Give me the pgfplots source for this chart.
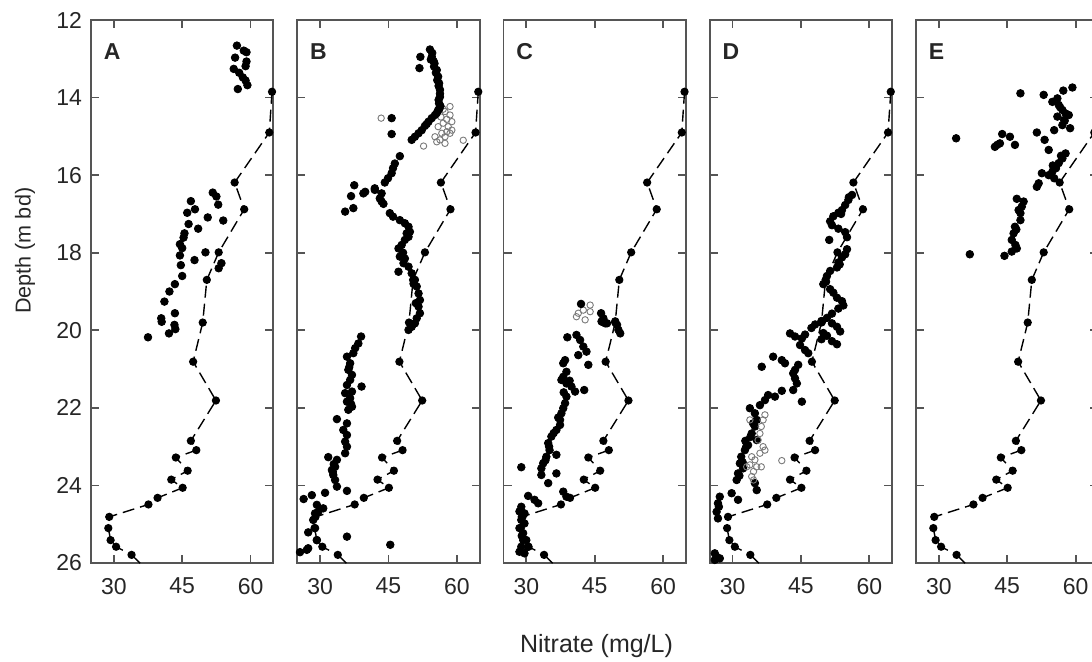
\documentclass[border=0pt]{standalone}
\usepackage{fontspec}
\setmainfont{Liberation Sans}
\usepackage{pgfplots}
\usepackage{pgfplotstable}
\pgfplotsset{compat=1.18}
\definecolor{axgray}{HTML}{555555}
\definecolor{opengray}{HTML}{7A7A7A}

\pgfplotstableread{
x y
64.7 13.85
64.1 14.90
56.5 16.19
58.6 16.88
53.0 17.99
50.4 18.70
49.5 19.80
47.4 20.81
52.4 21.81
46.9 22.85
48.1 23.09
43.6 23.28
46.2 23.62
42.6 23.85
45.1 24.06
39.6 24.32
37.6 24.49
29.0 24.81
28.8 25.10
29.3 25.41
30.5 25.58
33.9 25.79
}\profile

\pgfplotstableread{
x y
57.0 12.66
58.5 12.79
59.1 12.83
56.6 12.97
59.1 13.07
58.9 13.19
56.3 13.26
57.5 13.36
58.3 13.48
58.9 13.56
59.3 13.68
57.2 13.78
51.7 16.45
52.5 16.55
52.9 16.76
46.9 16.67
47.8 16.88
46.1 16.97
50.6 17.09
54.0 17.17
46.4 17.26
48.5 17.38
45.5 17.50
45.3 17.61
44.5 17.78
45.0 17.88
50.1 17.99
44.5 18.07
47.7 18.19
44.7 18.32
53.6 18.27
53.0 18.40
45.0 18.60
43.4 18.81
42.2 19.00
41.1 19.26
40.4 19.69
43.4 19.56
40.5 19.78
43.3 19.86
43.5 19.97
42.1 20.08
37.5 20.18
}\Afill

\pgfplotstableread{
x y
54.1 12.76
54.6 12.85
54.5 12.95
54.3 13.02
54.9 13.06
55.1 13.12
55.0 13.20
55.6 13.29
55.4 13.36
55.9 13.46
55.7 13.55
56.1 13.63
56.0 13.70
56.3 13.80
56.3 13.90
56.3 13.98
56.0 14.06
56.1 14.15
56.4 14.22
56.1 14.30
55.9 14.32
55.2 14.45
55.6 14.40
54.5 14.53
53.8 14.62
53.0 14.73
53.4 14.68
52.3 14.84
51.6 14.92
50.8 15.01
50.1 15.09
52.0 12.95
51.8 13.24
45.7 14.53
45.7 14.94
47.5 15.51
46.4 15.70
46.0 15.82
45.7 15.95
44.9 16.08
44.2 16.19
42.0 16.34
43.5 16.47
43.1 16.60
43.5 16.68
43.9 16.74
45.3 16.98
46.0 17.07
47.5 17.16
48.6 17.24
49.4 17.33
49.7 17.46
49.4 17.59
48.6 17.67
47.9 17.80
47.2 17.89
47.5 18.10
48.6 18.15
48.3 18.27
49.4 18.36
50.1 18.53
50.8 18.70
51.2 18.87
51.6 19.05
51.9 19.22
51.6 19.39
51.9 19.56
51.2 19.69
50.8 19.82
47.2 18.49
49.0 17.50
48.2 18.00
50.5 18.80
51.0 19.30
37.5 16.26
36.8 16.54
35.5 16.94
37.3 16.85
39.5 16.47
39.9 16.43
42.0 16.38
50.1 19.91
49.4 19.99
39.0 20.16
38.4 20.34
37.7 20.46
37.3 20.59
35.9 20.68
36.6 20.85
36.2 21.02
37.0 21.15
36.6 21.28
39.1 21.45
35.9 21.41
37.0 21.58
35.5 21.62
36.6 21.75
35.9 21.84
37.0 21.97
36.2 22.05
36.8 21.90
36.4 20.95
33.7 22.29
35.9 22.40
35.1 22.57
35.9 22.70
35.5 22.87
35.9 23.00
35.5 23.17
31.8 23.27
33.7 23.34
33.3 23.52
32.6 23.60
32.9 23.73
33.3 23.86
33.7 24.03
33.0 23.45
32.8 23.65
35.9 24.14
31.1 24.19
28.2 24.25
26.4 24.35
29.3 24.50
30.7 24.59
28.9 24.72
29.6 24.68
28.5 24.89
28.9 25.10
27.4 25.21
29.3 25.41
27.4 25.62
25.6 25.72
27.1 25.66
35.9 25.32
45.4 25.53
}\Bfill

\pgfplotstableread{
x y
43.4 14.53
52.7 15.25
61.4 15.10
58.5 14.23
57.4 14.36
58.5 14.45
57.8 14.56
58.9 14.62
57.0 14.66
58.1 14.75
55.9 14.75
57.8 14.88
56.7 14.92
58.5 14.92
55.2 15.01
57.4 15.01
56.3 15.09
55.6 15.14
57.4 15.18
58.9 14.84
56.5 14.50
57.0 14.30
}\Bopen

\pgfplotstableread{
x y
42.0 19.32
46.4 19.56
46.9 19.69
46.5 19.77
49.5 19.77
49.9 19.86
47.3 19.82
46.6 19.78
47.7 19.82
50.2 19.99
50.6 20.08
41.0 20.12
39.0 20.18
41.8 20.25
42.5 20.42
43.2 20.55
41.4 20.64
43.6 20.89
38.5 20.77
38.1 20.85
38.8 21.07
38.1 21.20
37.7 21.28
38.8 21.37
39.9 21.45
40.7 21.58
42.7 21.54
38.8 21.71
38.5 21.88
38.1 22.01
37.7 22.14
37.4 22.31
37.4 22.44
36.6 22.57
35.5 22.74
34.8 22.91
35.1 23.09
34.4 23.26
33.7 23.43
33.3 23.56
36.6 23.21
33.3 23.73
36.6 23.69
28.9 23.53
34.8 23.94
38.1 24.16
38.8 24.29
30.4 24.27
31.8 24.37
32.6 24.46
28.9 24.55
28.5 24.67
29.6 24.72
28.9 24.89
29.6 24.98
28.5 25.10
29.3 25.23
30.0 25.41
28.9 25.58
28.5 25.71
29.6 25.75
30.4 25.58
37.0 22.25
36.0 22.65
35.0 23.00
34.2 23.35
38.2 21.60
39.5 21.30
29.2 24.80
29.0 25.30
}\Cfill

\pgfplotstableread{
x y
44.0 19.35
42.5 19.48
41.4 19.56
41.0 19.65
42.9 19.73
44.0 19.52
}\Copen

\pgfplotstableread{
x y
56.2 16.51
55.4 16.64
54.7 16.77
54.0 16.90
53.2 16.97
52.1 17.06
51.4 17.19
51.8 17.29
53.2 17.38
54.7 17.47
55.1 17.60
51.2 17.67
55.1 17.91
54.7 18.04
54.0 18.12
53.2 18.25
52.9 18.38
51.4 18.47
50.7 18.60
49.9 18.81
51.4 18.94
52.1 19.03
52.9 19.16
54.0 19.25
54.3 19.36
53.2 19.44
51.8 19.57
50.7 19.68
49.5 19.76
48.1 19.85
47.3 19.94
45.9 20.11
49.9 20.07
50.7 20.14
49.5 20.23
51.8 20.28
52.9 20.36
55.5 16.57
53.8 17.00
53.5 18.30
50.5 18.75
49.6 19.78
51.8 19.82
52.9 19.91
53.6 20.03
42.6 20.08
43.7 20.16
45.2 20.21
44.8 20.38
45.9 20.51
46.6 20.59
38.9 20.68
40.8 20.77
41.5 20.85
36.4 20.94
44.4 20.89
43.7 21.02
43.3 21.11
43.7 21.24
44.1 21.37
43.3 21.54
45.2 21.84
40.8 21.56
39.3 21.71
37.8 21.67
37.1 21.80
36.0 21.93
33.8 22.01
34.9 22.14
35.3 22.31
34.9 22.48
34.2 22.66
35.3 22.83
33.4 22.96
32.7 23.09
31.9 23.26
31.6 23.43
32.3 23.56
31.2 23.69
30.9 23.86
34.9 23.94
35.3 24.12
29.8 24.20
31.2 24.37
27.2 24.29
26.8 24.46
26.5 24.68
26.8 24.85
26.1 25.75
26.5 25.84
27.2 25.88
26.1 25.92
34.5 22.40
33.9 22.75
33.0 23.00
32.2 23.40
31.5 23.75
32.8 22.85
27.0 24.55
}\Dfill

\pgfplotstableread{
x y
33.8 22.31
37.1 22.18
36.7 22.31
36.3 22.48
36.0 22.66
35.6 22.83
36.7 23.00
36.0 23.17
37.1 23.09
34.2 23.26
34.9 23.34
33.8 23.47
35.3 23.52
36.3 23.52
34.6 23.64
34.2 23.77
34.6 23.86
33.1 23.52
40.8 23.36
}\Dopen

\pgfplotstableread{
x y
47.9 13.89
53.0 13.93
57.3 13.82
59.3 13.74
54.9 14.11
56.0 14.02
56.3 14.19
57.1 14.32
57.8 14.41
56.0 14.49
57.5 14.58
58.5 14.45
55.3 14.84
57.1 14.71
58.8 14.79
56.6 14.25
57.6 14.60
51.5 14.90
53.2 15.09
54.1 15.35
33.8 15.05
43.9 14.94
45.6 15.01
42.3 15.27
43.4 15.18
46.7 15.22
42.8 15.22
57.8 15.44
57.1 15.57
56.3 15.69
55.7 15.82
54.9 15.91
54.1 16.00
52.6 15.95
51.5 16.30
51.9 16.21
55.3 16.08
56.8 15.50
55.0 15.75
47.1 16.61
48.6 16.68
48.2 16.81
47.9 16.98
47.9 17.16
46.7 17.33
46.4 17.50
46.0 17.67
47.1 17.89
46.0 17.97
36.8 18.04
44.4 18.08
47.5 16.90
47.0 17.40
46.8 17.80
}\Efill

\pgfplotsset{
 panel/.style={
  scale only axis, width=91.2pt, height=271.5pt,
  xmin=25, xmax=65, ymin=12, ymax=26, y dir=reverse,
  xtick={30,45,60}, ytick={12,14,...,26},
  tick align=inside, major tick length=4pt,
  xtick pos=both, ytick pos=both, xticklabel pos=lower, yticklabel pos=left,
  axis line style={axgray, line width=0.9pt},
  every tick/.style={axgray, line width=0.9pt},
  tick label style={font=\fontsize{11.5}{13}\selectfont, text=black!85},
  /pgf/number format/assume math mode=true,
  xticklabel style={yshift=-4pt},
  yticklabel style={xshift=-1pt},
  anchor=south west,
 },
 prof/.style={black, line width=0.7pt, dash pattern=on 6pt off 3pt, mark=*, mark size=1.7pt, mark options={solid, fill=black}},
 profend/.style={black, line width=0.7pt, dash pattern=on 6pt off 3pt, no marks},
 fdot/.style={only marks, mark=*, mark size=1.9pt, black, mark options={fill=black}},
 odot/.style={only marks, mark=o, mark size=1.6pt, opengray, mark options={line width=0.45pt}},
}
\newcommand{\panellabel}[1]{\node[anchor=north west, inner sep=0pt, font=\bfseries\fontsize{11.5}{13}\selectfont, text=black!85] at (rel axis cs:0.068,0.958) {#1};}

\begin{document}
\begin{tikzpicture}
% Panel A
\begin{axis}[panel, at={(45.5pt,49pt)},
  ylabel={Depth (m bd)},
  ylabel style={at={(rel axis cs:-0.362,0.575)}, anchor=center, rotate=0, font=\fontsize{10.8}{12}\selectfont, text=black!85}]
\addplot[profend] coordinates {(33.9,25.79) (38.3,26.3)};
\addplot[prof] table[x=x,y=y] {\profile};
\addplot[fdot] table[x=x,y=y] {\Afill};
\panellabel{A}
\end{axis}
% Panel B
\begin{axis}[panel, at={(148.625pt,49pt)}, yticklabels={}]
\addplot[profend] coordinates {(33.9,25.79) (38.3,26.3)};
\addplot[prof] table[x=x,y=y] {\profile};
\addplot[odot] table[x=x,y=y] {\Bopen};
\addplot[fdot] table[x=x,y=y] {\Bfill};
\panellabel{B}
\end{axis}
% Panel C
\begin{axis}[panel, at={(251.75pt,49pt)}, yticklabels={},
  xlabel={Nitrate (mg/L)},
  xlabel style={at={(rel axis cs:0.51,-0.152)}, anchor=center, font=\fontsize{12.5}{14}\selectfont, text=black!85}]
\addplot[profend] coordinates {(33.9,25.79) (38.3,26.3)};
\addplot[prof] table[x=x,y=y] {\profile};
\addplot[odot] table[x=x,y=y] {\Copen};
\addplot[fdot] table[x=x,y=y] {\Cfill};
\panellabel{C}
\end{axis}
% Panel D
\begin{axis}[panel, at={(354.875pt,49pt)}, yticklabels={}]
\addplot[profend] coordinates {(33.9,25.79) (38.3,26.3)};
\addplot[prof] table[x=x,y=y] {\profile};
\addplot[fdot] table[x=x,y=y] {\Dfill};
\addplot[odot] table[x=x,y=y] {\Dopen};
\panellabel{D}
\end{axis}
% Panel E
\begin{axis}[panel, at={(458pt,49pt)}, yticklabels={}]
\addplot[profend] coordinates {(33.9,25.79) (38.3,26.3)};
\addplot[prof] table[x=x,y=y] {\profile};
\addplot[fdot] table[x=x,y=y] {\Efill};
\panellabel{E}
\end{axis}
\pgfresetboundingbox
\useasboundingbox (0pt,0pt) rectangle (546pt,330.5pt);
\end{tikzpicture}
\end{document}
